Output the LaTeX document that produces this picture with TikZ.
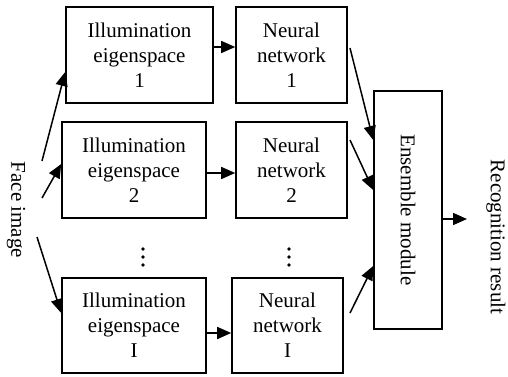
\documentclass[tikz,border=0pt]{standalone}
\usepackage{fontspec}
\setmainfont{Liberation Serif}
\usetikzlibrary{arrows.meta}
\begin{document}
\begin{tikzpicture}[x=1pt,y=-1pt,
  box/.style={draw,line width=1.6pt,align=center,inner sep=0pt,font=\fontsize{21}{25}\selectfont},
  lbl/.style={align=center,inner sep=0pt,font=\fontsize{21}{25}\selectfont,rotate=-90},
  arr/.style={line width=1.5pt,-{Triangle[length=14pt,width=12pt]}},
  dot/.style={fill=black}]
\useasboundingbox (0,0) rectangle (508,376);
\node[box,minimum width=147pt,minimum height=96pt] (e1) at (139.5,55) {Illumination\\eigenspace\\1};
\node[box,minimum width=111pt,minimum height=96pt] (n1) at (291.5,55) {Neural\\network\\1};
\node[box,minimum width=144pt,minimum height=96pt] (e2) at (134,170) {Illumination\\eigenspace\\2};
\node[box,minimum width=111pt,minimum height=96pt] (n2) at (291.5,170) {Neural\\network\\2};
\node[box,minimum width=144pt,minimum height=95pt] (e3) at (134,325.5) {Illumination\\eigenspace\\I};
\node[box,minimum width=111pt,minimum height=95pt] (n3) at (287.5,325.5) {Neural\\network\\I};
\node[box,minimum width=68pt,minimum height=238pt] (ens) at (408,210) {};
\node[lbl] (enst) at (ens.center) {Ensemble module};
\node[lbl] (face) at (16,210) {Face image};
\node[lbl] (rec) at (496,237) {Recognition result};
% dots
\foreach \yy in {249,257,265} {
  \fill (143,\yy) circle (1.9);
  \fill (289,\yy) circle (1.9);
}
% face image arrows
\coordinate (f1) at (42,161);
\coordinate (f2) at (42,198);
\coordinate (f3) at (37,237);
\draw[arr] (f1) -- (e1.west |- 0,72);
\draw[arr] (f2) -- (e2.west |- 0,164);
\draw[arr] (f3) -- (e3.west |- 0,313);
% E -> N
\draw[arr] (e1.east |- 0,47) -- (n1.west |- 0,47);
\draw[arr] (e2.east |- 0,173) -- (n2.west |- 0,173);
\draw[arr] (e3.east |- 0,333) -- (n3.west |- 0,333);
% N -> ensemble
\draw[arr] (350,48) -- (ens.west |- 0,140);
\draw[arr] (350,140) -- (ens.west |- 0,190);
\draw[arr] (350,313) -- (ens.west |- 0,266);
% output
\coordinate (o2) at (467,219);
\draw[arr] (ens.east |- 0,219) -- (o2);
\end{tikzpicture}
\end{document}
